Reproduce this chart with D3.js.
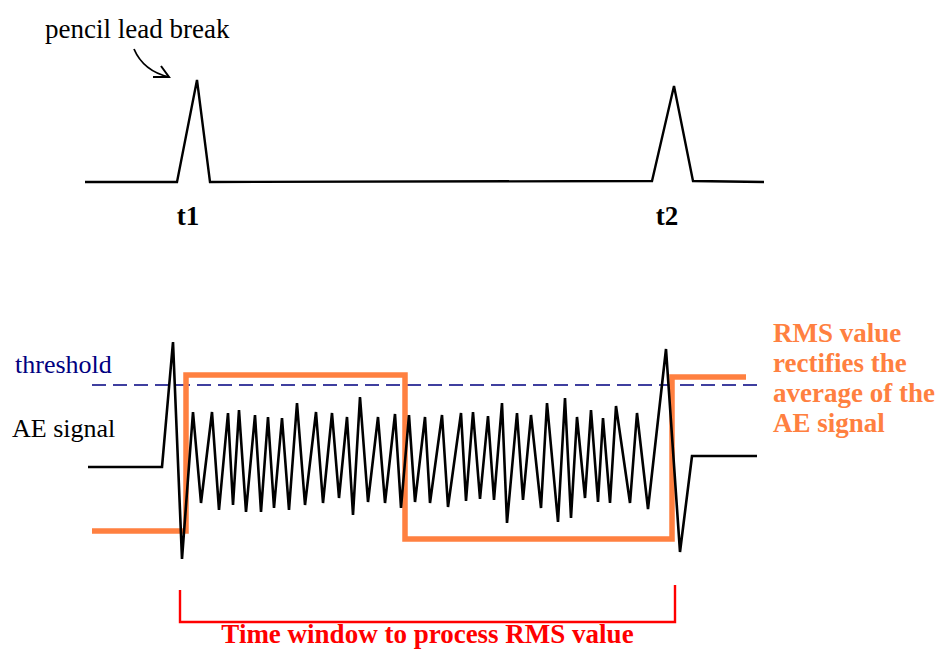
<!DOCTYPE html>
<html>
<head>
<meta charset="utf-8">
<script src="https://cdn.jsdelivr.net/npm/d3@7"></script>
<style>
  body { margin: 0; background: #fff; }
  svg { display: block; }
</style>
</head>
<body>
<svg id="chart"></svg>
<script>
// Pencil lead break pulses (time in arbitrary units, amplitude in %)
const pulseTime = [-3, 89, 109, 122, 564, 586, 605, 676];
const pulseAmp = [0, 0, 102, 0, 1, 96, 1, 0];
const pulseLabels = ['t1', 't2'];
const pulseLabelTime = [100, 579];

// AE signal vertices
const aeTime = [0, 74, 85, 94,
    105, 113, 124, 131, 140, 145, 151, 158, 167, 173, 180, 186, 194, 201,
    209, 217, 228, 235, 244, 251, 259, 265, 272, 280, 290, 297, 307, 313,
    321, 327, 337, 342, 354, 360, 373, 378, 385, 392, 400, 406, 414, 419,
    429, 435, 443, 453, 459, 470, 477, 483, 489, 497, 503, 510, 515, 522,
    528, 542, 549, 560, 578, 592, 604, 669];
const aeAmp = [0, 0, 125, -92,
    55, -36, 55, -43, 54, -38, 57, -45, 52, -45, 50, -41, 49, -43,
    64, -38, 55, -36, 54, -31, 50, -48, 70, -35, 50, -36, 53, -41,
    52, -35, 50, -36, 52, -40, 54, -34, 55, -32, 51, -33, 64, -56,
    54, -33, 52, -41, 64, -55, 69, -51, 50, -31, 57, -35, 49, -36,
    61, -36, 54, -42, 118, -85, 11, 11];

// RMS step line
const rmsTime = [4, 98, 317, 584, 658];
const rmsLevel = [-64, 92, -72, 90, 90];

// Threshold and processing window
const thresholdLevel = 82;
const thresholdSpan = [4, 676];
const windowSpan = [92, 587];

const rmsNote = ['RMS value', 'rectifies the', 'average of the', 'AE signal'];

class AEDiagram {
    constructor() {
        this.svg = d3.select('#chart');
        this.width = 944;
        this.height = 650;
        this.x = d3.scaleLinear().domain([0, 680]).range([88, 768]);
        this.yTop = d3.scaleLinear().domain([0, 100]).range([182, 82]);
        this.yAE = d3.scaleLinear().domain([-100, 130]).range([567, 337]);
        this.serif = "'Liberation Serif', 'Times New Roman', serif";
    }

    init() {
        this.svg
            .attr('width', this.width)
            .attr('height', this.height)
            .style('background-color', '#fff');

        this.addPulses();
        this.addThreshold();
        this.addRms();
        this.addSignal();
        this.addWindow();
        this.addLabels();
    }

    addPulses() {
        const line = d3.line()
            .x((d, i) => this.x(pulseTime[i]))
            .y((d, i) => this.yTop(pulseAmp[i]));

        this.svg.append('path')
            .attr('d', line(pulseTime))
            .attr('fill', 'none')
            .attr('stroke', '#000')
            .attr('stroke-width', 2.4);

        this.svg.selectAll('.pulse-label')
            .data(pulseLabels)
            .join('text')
            .attr('class', 'pulse-label')
            .attr('x', (d, i) => this.x(pulseLabelTime[i]))
            .attr('y', 225)
            .attr('text-anchor', 'middle')
            .style('font-family', this.serif)
            .style('font-weight', 'bold')
            .style('font-size', '27px')
            .text(d => d);

        // Annotation with curved arrow
        this.svg.append('text')
            .attr('x', 45)
            .attr('y', 38)
            .style('font-family', this.serif)
            .style('font-size', '27px')
            .text('pencil lead break');

        this.svg.append('path')
            .attr('d', 'M134,49 C140,63 152,73 169,77')
            .attr('fill', 'none')
            .attr('stroke', '#000')
            .attr('stroke-width', 1.8);

        this.svg.append('path')
            .attr('d', 'M153,77 L169,77 L161,66')
            .attr('fill', 'none')
            .attr('stroke', '#000')
            .attr('stroke-width', 2);
    }

    addThreshold() {
        this.svg.append('line')
            .attr('x1', this.x(thresholdSpan[0]))
            .attr('x2', this.x(thresholdSpan[1]))
            .attr('y1', this.yAE(thresholdLevel))
            .attr('y2', this.yAE(thresholdLevel))
            .attr('stroke', '#000080')
            .attr('stroke-width', 1.5)
            .attr('stroke-dasharray', '14,7');
    }

    addRms() {
        const line = d3.line()
            .curve(d3.curveStepAfter)
            .x((d, i) => this.x(rmsTime[i]))
            .y((d, i) => this.yAE(rmsLevel[i]));

        this.svg.append('path')
            .attr('d', line(rmsTime))
            .attr('fill', 'none')
            .attr('stroke', '#ff8040')
            .attr('stroke-width', 5.5);
    }

    addSignal() {
        const line = d3.line()
            .x((d, i) => this.x(aeTime[i]))
            .y((d, i) => this.yAE(aeAmp[i]));

        this.svg.append('path')
            .attr('d', line(aeTime))
            .attr('fill', 'none')
            .attr('stroke', '#000')
            .attr('stroke-width', 2.6)
            .attr('stroke-linejoin', 'miter');
    }

    addWindow() {
        const x0 = this.x(windowSpan[0]);
        const x1 = this.x(windowSpan[1]);

        this.svg.append('path')
            .attr('d', `M${x0},590 L${x0},622 L${x1},622 L${x1},585`)
            .attr('fill', 'none')
            .attr('stroke', '#ff0000')
            .attr('stroke-width', 2.4);

        this.svg.append('text')
            .attr('x', (x0 + x1) / 2)
            .attr('y', 643)
            .attr('text-anchor', 'middle')
            .attr('fill', '#ff0000')
            .style('font-family', this.serif)
            .style('font-weight', 'bold')
            .style('font-size', '27px')
            .text('Time window to process RMS value');
    }

    addLabels() {
        this.svg.append('text')
            .attr('x', 15)
            .attr('y', 373)
            .attr('fill', '#000080')
            .style('font-family', this.serif)
            .style('font-size', '26px')
            .text('threshold');

        this.svg.append('text')
            .attr('x', 12)
            .attr('y', 437)
            .style('font-family', this.serif)
            .style('font-size', '26px')
            .text('AE signal');

        this.svg.selectAll('.rms-note')
            .data(rmsNote)
            .join('text')
            .attr('class', 'rms-note')
            .attr('x', 773)
            .attr('y', (d, i) => 342 + i * 30)
            .attr('fill', '#ff8040')
            .style('font-family', this.serif)
            .style('font-weight', 'bold')
            .style('font-size', '27px')
            .text(d => d);
    }
}

const aeDiagram = new AEDiagram();
aeDiagram.init();
</script>
</body>
</html>
